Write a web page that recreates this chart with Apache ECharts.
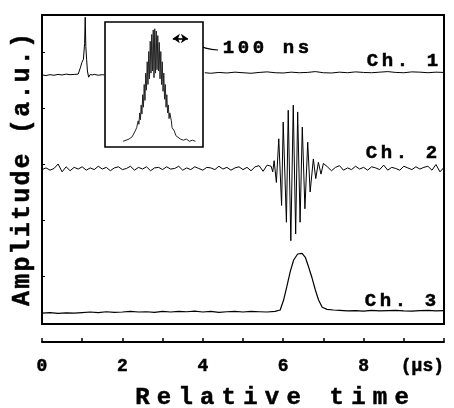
<!DOCTYPE html>
<html><head><meta charset="utf-8">
<script src="https://cdn.jsdelivr.net/npm/echarts@6/dist/echarts.min.js"></script>
<style>html,body{margin:0;padding:0;background:#fff}#c{width:454px;height:408px}</style>
</head><body><div id="c"></div>
<script>
// ---- data (time in µs, amplitude in a.u.) ----
const xTickLabels = ['0', '', '2', '', '4', '', '6', '', '8', '', '(\u00b5s)'];
const channelNames = ['Ch. 1', 'Ch. 2', 'Ch. 3'];
const channelOffsets = [36.0, 19.2, -6.43];

const ch1TimeA = [0.0,0.1,0.2,0.3,0.4,0.5,0.6,0.7,0.8,0.9,0.925,0.96,0.99,1.03,1.06,1.075,1.09,1.11,1.13,1.16,1.2,1.25,1.3,1.4,1.5,1.55];
const ch1AmpA  = [-0.1,-0.2,-0.05,-0.15,0.0,-0.1,0.05,-0.05,0.0,0.05,0.1,1.3,2.1,2.7,5.5,10.2,5.0,2.7,0.6,-0.5,0.0,-0.1,0.0,-0.15,-0.05,-0.1];
const ch1TimeB = [4.05,4.2,4.4,4.6,4.8,5.0,5.2,5.4,5.6,5.8,6.0,6.2,6.4,6.6,6.8,7.0,7.2,7.4,7.6,7.8,8.0,8.2,8.4,8.6,8.8,9.0,9.2,9.4,9.6,9.8,10.0];
const ch1AmpB  = [0.3,0.2,0.35,0.25,0.4,0.3,0.2,0.35,0.45,0.3,0.25,0.4,0.3,0.35,0.5,0.3,0.25,0.4,0.3,0.45,0.35,0.3,0.4,0.5,0.35,0.3,0.45,0.4,0.3,0.4,0.35];

const ch2Time = [0.0,0.1,0.2,0.3,0.4,0.5,0.6,0.7,0.8,0.9,1.0,1.1,1.2,1.3,1.4,1.5,1.6,1.7,1.8,1.9,2.0,2.1,2.2,2.3,2.4,2.5,2.6,2.7,2.8,2.9,3.0,3.1,3.2,3.3,3.4,3.5,3.6,3.7,3.8,3.9,4.0,4.1,4.2,4.3,4.4,4.5,4.6,4.7,4.8,4.9,5.0,5.1,5.2,5.3,5.4,5.5,5.6,
  5.7,5.74,5.775,5.83,5.89,5.96,6.0,6.08,6.125,6.19,6.25,6.31,6.36,6.42,6.475,6.54,6.61,6.67,6.75,6.81,6.875,6.94,7.0,
  7.1,7.2,7.3,7.4,7.5,7.6,7.7,7.8,7.9,8.0,8.1,8.2,8.3,8.4,8.5,8.6,8.7,8.8,8.9,9.0,9.1,9.2,9.3,9.4,9.5,9.6,9.7,9.8,9.9,10.0];
const ch2Amp = [-0.2,0.1,-0.3,0.0,0.8,-0.6,0.3,-0.4,0.2,-0.1, 0.3,-0.3,0.1,-0.2,0.4,-0.1,0.2,-0.4,0.1,0.3, -0.2,0.0,0.4,-0.3,0.2,-0.1,0.3,-0.4,0.1,0.2, -0.2,0.3,-0.1,0.0,0.4,-0.3,0.1,-0.2,0.3,0.0, -0.3,0.2,0.1,-0.2,0.4,-0.1,0.2,-0.3,0.1,0.3, -0.2,0.2,-0.4,0.3,0.5,-0.5,0.6,
  0.4,-0.6,1.4,-2.5,5.3,-6.6,8.3,-9.6,10.4,-12.9,11.3,-11.7,10.1,-9.6,7.4,-7.2,4.7,-4.2,1.7,-1.8,1.1,-1.0,0.9,
  0.3,-0.4,0.2,0.5,-0.3,0.1,-0.2,0.4,-0.1,0.2,-0.3,0.3,0.1,-0.2,0.6,-0.3,0.2,0.0,-0.3,0.4,0.1,-0.2,0.3,-0.1,0.2,0.4,-0.3,0.7,-0.6,0.2];

const ch3Time = [0.0,0.2,0.4,0.6,0.8,1.0,1.2,1.4,1.6,1.8,2.0,2.2,2.4,2.6,2.8,3.0,3.2,3.4,3.6,3.8,4.0,4.2,4.4,4.6,4.8,5.0,5.2,5.4,5.6,5.8,
  5.925,6.01,6.09,6.175,6.26,6.36,6.47,6.55,6.63,6.72,6.8,6.88,6.97,7.09,7.25,
  7.4,7.6,7.8,8.0,8.2,8.4,8.6,8.8,9.0,9.2,9.4,9.6,9.8,10.0];
const ch3Amp = [-0.2,-0.1,-0.25,-0.15,-0.2,-0.1,0.0,-0.1,0.05,-0.05, 0.0,0.1,0.0,0.05,-0.05,0.1,0.0,0.1,0.05,0.15, 0.0,0.1,-0.05,0.05,0.1,0.0,0.1,0.05,0.0,0.1,
  0.36,2.14,4.52,7.2,9.29,10.36,10.48,9.77,8.09,6.02,3.93,2.14,0.84,0.48,0.36,
  0.3,0.2,0.25,0.15,0.3,0.2,0.25,0.3,0.2,0.15,0.25,0.3,0.2,0.25];

// inset: time in ns, normalized amplitude
const insetTime = [120,140,160,180,190,200,210,220,225,230,235,
  240,245,250,255,260,265,270,275,280,285,290,295,300,305,310,315,320,325,330,335,340,345,350,355,360,365,370,375,380,385,390,395,400,405,410,415,420,425,430,
  440,445,450,460,470,480,500,520,540,560,580,600];
const insetAmp  = [0.0,0.01,0.02,0.04,0.05,0.09,0.12,0.18,0.15,0.25,0.19,
  0.32,0.24,0.41,0.30,0.50,0.36,0.60,0.45,0.70,0.50,0.79,0.55,0.88,0.60,0.94,0.62,0.98,0.56,0.99,0.60,0.97,0.63,0.93,0.62,0.87,0.55,0.79,0.50,0.70,0.44,0.60,0.37,0.50,0.30,0.41,0.25,0.32,0.20,0.25,
  0.18,0.12,0.13,0.09,0.05,0.04,0.02,0.01,0.02,0.0,0.01,0.0];
const scaleBarNs = [450, 550];
const scaleBarLevel = 0.905;
const scaleBarLabel = '100 ns';

// ---- helpers ----
const FONT = 'Liberation Mono';
function spaced(text, key) {
  return text.split('').map(ch => '{' + key + '|' + (ch === ' ' ? '\u00a0' : ch) + '}').join('');
}
function pairs(t, v, off) { return t.map((x, i) => [x, +(v[i] + off).toFixed(3)]); }

const ch1Data = pairs(ch1TimeA, ch1AmpA, channelOffsets[0]).concat([[2.8, '-']], pairs(ch1TimeB, ch1AmpB, channelOffsets[0]));
const ch2Data = pairs(ch2Time, ch2Amp, channelOffsets[1]);
const ch3Data = pairs(ch3Time, ch3Amp, channelOffsets[2]);
const insetData = insetTime.map((t, i) => [t, insetAmp[i]]);

const bold = { textBorderColor: '#000', textBorderWidth: 0.5 };
// graphic (zrender) text uses stroke/lineWidth for glyph outline
const labelRich = { c: { fontFamily: FONT, fontWeight: 'bold', fontSize: 19, fill: '#000', stroke: '#000', lineWidth: 0.5, padding: [0, 1.8, 0, 1.8] } };

const chart = echarts.init(document.getElementById('c'), null, { renderer: 'canvas' });
const traceStyle = { color: '#000', width: 1 };

chart.setOption({
  backgroundColor: '#fff',
  animation: false,
  grid: [
    { left: 42, top: 15, right: 10, bottom: 84, outerBoundsMode: 'none', containLabel: false, show: true, borderColor: '#000', borderWidth: 2, backgroundColor: 'transparent' },
    { left: 105, top: 22, width: 98, height: 125, outerBoundsMode: 'none', containLabel: false, show: true, borderColor: '#000', borderWidth: 1.6, backgroundColor: '#fff', z: 3 }
  ],
  xAxis: [
    {
      gridIndex: 0, type: 'value', min: 0, max: 10, interval: 1, offset: 18,
      axisLine: { show: true, onZero: false, lineStyle: { color: '#000', width: 2 } },
      axisTick: { show: true, inside: true, length: 4, lineStyle: { color: '#000', width: 1.5 } },
      splitLine: { show: false },
      axisLabel: Object.assign({
        show: true, margin: 15, color: '#000', fontFamily: FONT, fontWeight: 'bold', fontSize: 18,
        showMinLabel: true, showMaxLabel: true, alignMaxLabel: 'right',
        formatter: v => xTickLabels[Math.round(v)] || ''
      }, bold),
      name: spaced('Relative time', 'r'), nameLocation: 'middle', nameGap: 44,
      nameTextStyle: { padding: [0, 0, 0, 58], rich: { r: Object.assign({ fontFamily: FONT, fontWeight: 'bold', fontSize: 24, color: '#000', padding: [0, 3.6, 0, 3.6] }, bold) } }
    },
    { gridIndex: 1, type: 'value', min: 0, max: 650, show: false }
  ],
  yAxis: [
    {
      gridIndex: 0, type: 'value', min: -8.571, max: 46.607,
      axisLine: { show: false, onZero: false },
      axisTick: { show: true, inside: true, length: 3, lineStyle: { color: '#000', width: 1 } },
      axisLabel: { show: false },
      splitLine: { show: false },
      name: spaced('Amplitude (a.u.)', 'y'), nameLocation: 'middle', nameGap: 7,
      nameTextStyle: { rich: { y: Object.assign({ fontFamily: FONT, fontWeight: 'bold', fontSize: 25, color: '#000', padding: [0, 1.1, 0, 1.1] }, bold) } }
    },
    { gridIndex: 1, type: 'value', min: -0.05, max: 1.05, show: false }
  ],
  series: [
    { name: channelNames[0], type: 'line', xAxisIndex: 0, yAxisIndex: 0, data: ch1Data, showSymbol: false, symbol: 'none', lineStyle: traceStyle, connectNulls: false },
    { name: channelNames[1], type: 'line', xAxisIndex: 0, yAxisIndex: 0, data: ch2Data, showSymbol: false, symbol: 'none', lineStyle: traceStyle },
    { name: channelNames[2], type: 'line', xAxisIndex: 0, yAxisIndex: 0, data: ch3Data, showSymbol: false, symbol: 'none', lineStyle: { color: '#000', width: 1.2 } },
    {
      name: 'inset', type: 'line', xAxisIndex: 1, yAxisIndex: 1, data: insetData, showSymbol: false, symbol: 'none', z: 5,
      lineStyle: { color: '#222', width: 1 },
      markLine: {
        silent: true, symbol: ['arrow', 'arrow'], symbolSize: [7, 7],
        label: { show: false },
        lineStyle: { color: '#000', width: 1.6, type: 'solid' },
        data: [[{ coord: [scaleBarNs[0], scaleBarLevel] }, { coord: [scaleBarNs[1], scaleBarLevel] }]]
      }
    }
  ],
  graphic: [
    { type: 'text', x: 440, y: 61, style: { text: spaced(channelNames[0], 'c'), rich: labelRich, align: 'right', verticalAlign: 'middle' } },
    { type: 'text', x: 439, y: 153, style: { text: spaced(channelNames[1], 'c'), rich: labelRich, align: 'right', verticalAlign: 'middle' } },
    { type: 'text', x: 438, y: 301, style: { text: spaced(channelNames[2], 'c'), rich: labelRich, align: 'right', verticalAlign: 'middle' } },
    { type: 'text', x: 221, y: 48, style: { text: spaced(scaleBarLabel, 'c'), rich: labelRich, align: 'left', verticalAlign: 'middle' } },
    { type: 'bezierCurve', shape: { x1: 189, y1: 41, cpx1: 197, cpy1: 41, cpx2: 196, cpy2: 49, x2: 218, y2: 50 }, style: { stroke: '#000', lineWidth: 1.2, fill: null } }
  ]
});
</script>
</body></html>
